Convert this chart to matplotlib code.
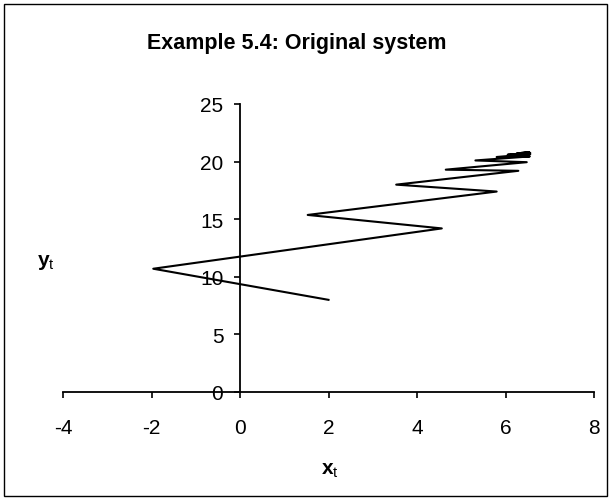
import matplotlib
matplotlib.use("Agg")
import matplotlib.pyplot as plt
from matplotlib.patches import Rectangle

plt.rcParams['font.family'] = ['Liberation Sans', 'DejaVu Sans']
plt.rcParams['mathtext.fontset'] = 'custom'
plt.rcParams['mathtext.rm'] = 'Liberation Sans'
plt.rcParams['mathtext.bf'] = 'Liberation Sans:bold'

x_vals = [2.0, -1.96, 4.56, 1.53, 5.8, 3.53, 6.29, 4.65, 6.48, 5.32, 6.55,
          5.8, 6.56, 6.05, 6.56, 6.25, 6.54, 6.35, 6.52]
y_vals = [8.0, 10.7, 14.2, 15.37, 17.4, 18.0, 19.2, 19.3, 19.95, 20.1, 20.45,
          20.4, 20.65, 20.6, 20.75, 20.7, 20.8, 20.75, 20.8]
x_ticks = [-4, -2, 0, 2, 4, 6, 8]
y_ticks = [0, 5, 10, 15, 20, 25]

fig = plt.figure(figsize=(6.11, 5.02), dpi=100)
fig.patches.append(Rectangle((4/611, 5/502), 603/611, 492/502, transform=fig.transFigure,
                             fill=False, edgecolor='black', linewidth=1.0))

ax = fig.add_axes([63/611, 1-393/502, 531/611, 288/502])
ax.plot(x_vals, y_vals, color='black', linewidth=1.5)
ax.set_xlim(-4, 8)
ax.set_ylim(0, 25)
ax.spines['left'].set_position(('data', 0))
ax.spines['bottom'].set_position(('data', 0))
ax.spines['top'].set_visible(False)
ax.spines['right'].set_visible(False)
for s in ['left', 'bottom']:
    ax.spines[s].set_linewidth(1.3)
ax.set_xticks(x_ticks)
ax.set_yticks(y_ticks)
ax.set_xticklabels([str(v) for v in x_ticks])
ax.set_yticklabels([str(v) for v in y_ticks])
ax.tick_params(axis='x', direction='out', length=4, width=1.2, pad=15, labelsize=15)
ax.tick_params(axis='y', direction='out', length=4, width=1.2, pad=8, labelsize=15)
ax.patch.set_alpha(0)

fig.text(297/611, 1-43/502, 'Example 5.4: Original system', ha='center', va='center',
         fontsize=15.5, fontweight='bold')
fig.text(330/611, 1-471/502, r'$\mathbf{x}_{\mathrm{t}}$', ha='center', va='center', fontsize=15)
fig.text(46/611, 1-263/502, r'$\mathbf{y}_{\mathrm{t}}$', ha='center', va='center', fontsize=15)

fig.savefig('out.png', dpi=100)
